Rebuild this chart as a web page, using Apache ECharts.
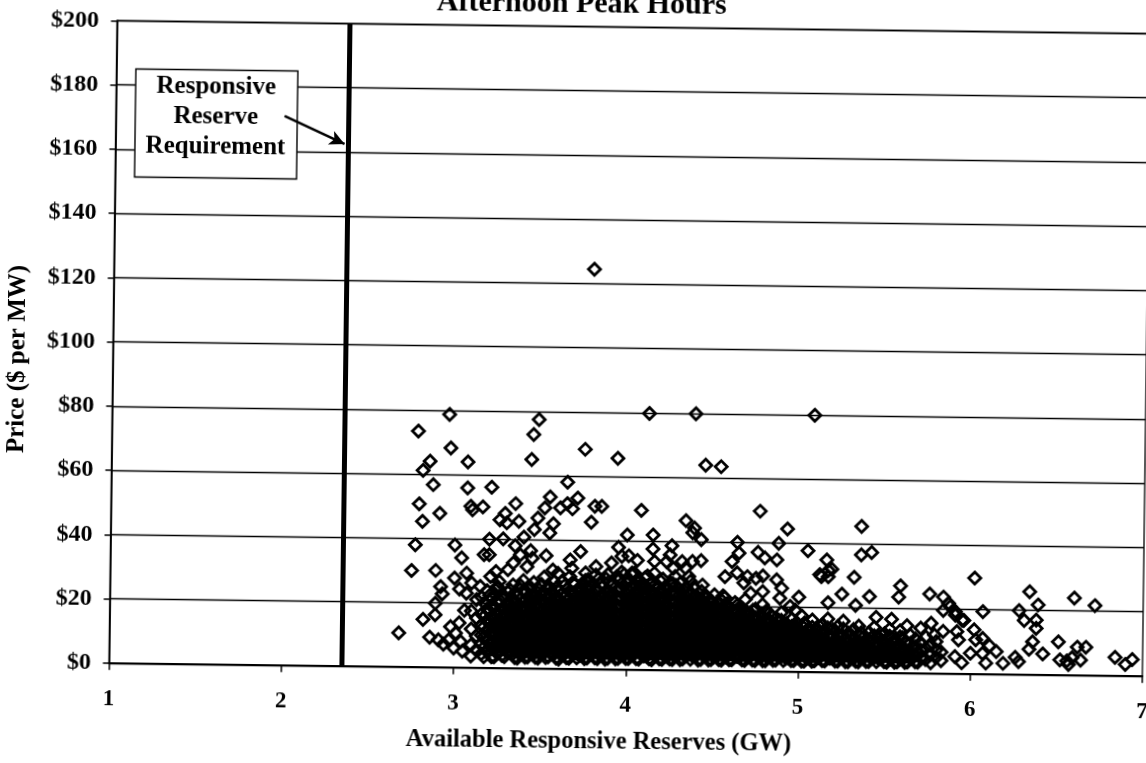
<!DOCTYPE html>
<html>
<head>
<meta charset="utf-8">
<title>Afternoon Peak Hours</title>
<script src="https://cdn.jsdelivr.net/npm/echarts@6/dist/echarts.min.js"></script>
<style>
  html, body { margin: 0; padding: 0; background: #fff; overflow: hidden; width: 1146px; height: 763px; }
  /* the printed page sits slightly askew on the scanner glass;
     the canvas is a little larger than the window so its edges never show */
  #chart {
    position: absolute; left: 0; top: -30px;
    width: 1180px; height: 823px;
    transform: rotate(0.72deg);
    transform-origin: 573px 411.5px;
  }
</style>
</head>
<body>
<div id="chart"></div>
<script>
// Axis ranges
const gwTicks = [1, 2, 3, 4, 5, 6, 7];
const priceTicks = [0, 20, 40, 60, 80, 100, 120, 140, 160, 180, 200];

// Responsive reserve requirement (GW)
const reserveRequirement = 2.35;

// Callout arrow, in [GW, $/MW]
const arrowTail = [1.98, 171.0];
const arrowHead = [2.33, 162.5];

// Individually scattered hours: [available reserves GW, price $/MW]
const scatteredHours = [
  [2.68,10.5],[2.75,30.0],[2.77,38.0],[2.78,73.4],[2.81,61.2],[2.85,64.1],[2.79,50.8],[2.81,45.3],
  [2.87,56.8],[2.91,47.9],[2.96,78.7],[2.97,68.3],[2.89,30.1],[3.00,38.1],[3.04,34.1],[3.07,64.0],
  [3.07,55.9],[3.21,56.2],[3.09,50.2],[3.10,49.1],[3.16,50.1],[3.20,40.0],[3.28,40.2],[3.40,40.8],
  [3.26,46.1],[3.30,45.2],[3.29,48.1],[3.35,51.2],[3.37,45.7],[3.48,77.5],[3.45,72.8],[3.44,65.0],
  [3.65,58.1],[3.55,53.4],[3.52,50.0],[3.48,46.8],[3.46,43.2],[3.55,42.2],[3.57,45.1],[3.61,50.1],
  [3.68,49.8],[3.65,51.4],[3.71,53.2],[3.75,68.4],[3.94,65.7],[3.79,45.7],[3.81,50.7],[3.85,50.7],
  [3.79,124.5],[4.12,79.8],[4.39,79.9],[4.45,63.9],[4.54,63.5],[4.08,49.6],[4.00,41.9],[4.15,42.0],
  [4.34,46.6],[4.39,44.3],[4.38,42.8],[4.43,40.7],[4.77,49.8],[4.64,40.0],[5.08,79.9],[4.93,44.4],
  [5.36,45.5],[4.88,39.9],[5.05,37.7],[5.36,36.6],[5.42,37.4],[5.16,34.9],[5.19,32.0],[5.13,29.7],
  [5.17,29.7],[5.32,29.6],[4.76,37.0],[4.80,35.3],[4.87,34.7],[4.61,34.0],[4.65,36.7],
  [6.02,29.8],[5.59,27.1],[5.58,23.6],[5.76,24.7],[5.84,23.8],[5.87,21.9],[6.34,25.8],[6.39,21.7],
  [6.60,24.0],[6.72,21.7],[5.41,23.7],[5.25,24.3],[6.28,19.9],[6.07,19.4],[6.31,16.8],[6.38,17.0],
  [6.38,14.4],[6.36,10.2],[6.34,7.9],[6.42,6.5],[6.51,10.3],[6.62,8.7],[6.67,8.7],[6.52,4.7],
  [6.56,4.4],[6.59,5.4],[6.64,4.7],[6.57,3.3],[6.84,5.7],[6.94,5.1],[6.90,3.5],[6.26,5.3],[6.28,4.0],
  [5.88,20.9],[5.91,19.3],[5.95,16.7],[5.92,13.1],[6.02,13.7],[6.03,10.6],[6.07,11.1],[5.93,10.5],
  [6.11,8.8],[6.15,7.0],[6.00,6.4],[6.07,6.4],[5.91,5.3],[5.95,3.4],[6.19,3.4],[6.09,3.4],
  [5.84,19.6],[5.91,18.2],[5.96,16.6],[5.17,31.6],[5.12,30.3],[5.17,21.6],[5.00,23.2],[4.90,25.9],
  [4.89,22.8],[4.79,29.7],[4.75,28.9],[4.79,24.8],[5.33,20.9],[5.45,17.2],[5.54,16.7],[5.71,14.0],
  [5.77,15.6],[5.79,11.9],[5.84,13.1],[4.83,18.1],[4.95,20.3],[4.98,19.2],[5.63,14.7],
  [3.73,36.5],[3.95,38.0],[4.01,35.4],[4.06,34.0],[3.97,35.2],[4.15,37.6],[4.16,33.7],[4.16,30.1],
  [4.26,38.7],[4.25,35.8],[4.23,33.7],[4.32,33.8],[4.38,33.9],[4.43,34.2],[4.03,30.1],[3.96,28.1],
  [4.08,26.1],[3.89,29.5],[3.91,33.1],[3.82,31.9],[3.76,29.9],[3.77,25.7],[4.27,31.7],[4.28,29.1],
  [4.34,31.8],[4.36,29.2],[4.31,27.1],[4.37,27.7],[4.44,26.6],[4.56,23.3],[4.57,29.3],[4.64,30.5],
  [4.68,27.4],[4.70,29.4],[4.72,24.2],[4.79,20.7],[4.87,28.5],
  [3.17,35.2],[3.20,35.2],[3.07,29.4],[3.00,27.8],[2.92,25.1],[3.03,24.4],[2.93,22.8],[2.89,19.9],
  [3.34,32.7],[3.38,35.3],[3.45,34.3],[3.42,31.6],[3.57,30.7],[3.60,29.7],[3.68,31.3],[3.67,33.9],
  [3.24,30.0],[3.21,28.4],[3.10,26.3],[3.15,25.3],[3.25,25.3],[3.35,38.1],[3.53,35.1],[3.44,36.6],
  [3.31,30.6],[3.26,26.9],
  [2.82,14.8],[2.86,9.3],[2.89,16.3],[2.91,8.5],[2.94,7.2],[2.97,8.5],[3.00,6.0],[3.01,10.7],
  [2.98,12.6],[3.07,23.1],[3.05,5.1],[3.03,13.9],[3.06,17.8],[3.04,8.0]
];

// Bulk of the hours, grouped by reserve level: [GW, [prices $/MW]]
const clusterColumns = [
  [3.10,[3.6,7.0,12.0,17.6]],
  [3.13,[5.5,9.8,15.4,21.2]],
  [3.16,[4.3,7.4,10.1,13.3,16.7,21.9]],
  [3.19,[5.2,8.3,11.5,14.6,18.2,24.0]],
  [3.22,[3.4,6.1,7.9,10.6,13.1,15.8,19.0,21.4]],
  [3.25,[4.7,7.0,9.4,11.8,14.3,17.2,20.5,24.8]],
  [3.28,[3.9,6.2,8.5,11.1,13.5,16.1,18.4,22.3]],
  [3.31,[5.1,7.3,9.9,12.4,15.0,17.5,20.1,23.7]],
  [3.34,[4.2,6.5,8.7,11.2,13.8,16.3,18.9,21.6,25.9]],
  [3.37,[3.1,5.4,7.6,9.8,12.1,14.4,16.9,19.4,22.5]],
  [3.40,[4.5,6.7,9.0,10.9,13.2,15.6,18.0,20.8,24.1,27.3]],
  [3.43,[3.5,5.7,8.1,10.3,12.5,14.9,17.2,19.7,22.2,25.4]],
  [3.46,[4.3,6.4,8.6,10.8,13.3,15.7,18.2,20.6,23.3,26.7]],
  [3.49,[3.2,5.3,7.5,9.7,11.9,14.3,16.6,19.1,21.9,24.6]],
  [3.52,[4.8,6.9,9.1,11.4,13.7,16.0,18.5,21.1,23.8,28.4]],
  [3.55,[3.7,5.9,8.0,10.2,12.6,15.0,17.3,19.9,22.7,25.5]],
  [3.58,[4.4,6.6,8.8,11.0,13.3,15.5,17.9,20.3,23.1,27.1]],
  [3.61,[3.0,5.2,7.4,9.5,11.8,14.1,16.4,18.8,21.5,24.3]],
  [3.64,[4.5,6.3,8.4,10.6,12.9,15.2,17.6,20.0,22.6,25.9]],
  [3.67,[3.3,5.6,7.8,10.0,12.2,14.6,17.0,19.3,21.8,24.2,28.7]],
  [3.70,[4.9,7.0,9.2,11.5,13.8,16.1,18.5,20.9,23.5,26.4]],
  [3.73,[4.1,6.2,8.3,10.4,12.7,14.9,17.2,19.7,22.1,25.0]],
  [3.76,[3.2,5.1,7.3,9.6,11.8,14.1,16.5,18.9,21.3,23.9,27.6]],
  [3.79,[4.6,6.7,8.9,11.1,13.4,15.7,18.1,20.6,23.0,25.7]],
  [3.82,[3.5,5.8,7.9,10.1,12.3,14.7,17.1,19.5,22.0,24.8,29.3]],
  [3.85,[4.3,6.4,8.5,10.7,13.0,15.3,17.7,20.2,22.8,26.5]],
  [3.88,[3.1,5.3,7.5,9.8,12.0,14.3,16.7,19.1,21.6,24.2,28.1]],
  [3.91,[4.7,6.8,9.0,11.2,13.6,15.9,18.3,20.8,23.4,26.1]],
  [3.94,[3.3,5.5,7.7,9.9,12.1,14.5,16.9,19.3,21.9,24.5,28.8]],
  [3.97,[4.2,6.3,8.4,10.6,12.9,15.2,17.5,19.9,22.4,25.2,30.3]],
  [4.00,[3.4,5.0,7.2,9.4,11.6,13.9,16.3,18.7,21.2,23.7,26.9]],
  [4.03,[4.4,6.5,8.7,10.9,13.2,15.5,17.9,20.4,22.9,25.6,29.5]],
  [4.06,[3.4,5.6,7.8,10.0,12.2,14.6,17.0,19.4,22.0,24.7,27.9]],
  [4.09,[4.8,6.9,9.1,11.3,13.7,16.1,18.5,21.0,23.6,26.3]],
  [4.12,[4.2,6.3,8.5,10.7,13.0,15.3,17.7,20.1,22.7,25.3,29.2]],
  [4.15,[3.1,5.3,7.4,9.6,11.9,14.2,16.6,19.0,21.5,24.1,27.4]],
  [4.18,[4.6,6.7,8.9,11.1,13.4,15.8,18.2,20.7,23.2,26.0]],
  [4.21,[3.3,5.4,7.6,9.8,12.0,14.3,16.7,19.1,21.7,24.4,28.3]],
  [4.24,[4.1,6.2,8.3,10.5,12.8,15.1,17.5,19.9,22.5,25.1]],
  [4.27,[3.3,5.1,7.2,9.4,11.6,13.9,16.3,18.7,21.2,23.8,26.8]],
  [4.30,[4.5,6.6,8.8,11.0,13.3,15.6,18.0,20.5,23.0,25.5]],
  [4.33,[3.5,5.7,7.9,10.1,12.3,14.7,17.1,19.6,22.2,24.9]],
  [4.36,[4.8,6.9,9.1,11.3,13.6,16.0,18.4,20.9,23.5]],
  [4.39,[4.3,6.4,8.6,10.8,13.1,15.4,17.8,20.3,22.8,25.9]],
  [4.42,[3.2,5.2,7.3,9.5,11.7,14.0,16.4,18.9,21.4,24.1]],
  [4.45,[4.6,6.7,8.9,11.1,13.4,15.8,18.2,20.7,23.1]],
  [4.48,[3.3,5.5,7.6,9.8,12.1,14.4,16.8,19.3,21.9]],
  [4.51,[4.2,6.3,8.4,10.6,12.9,15.2,17.6,20.1,23.6]],
  [4.54,[3.4,5.0,7.1,9.3,11.5,13.8,16.2,18.6,21.0]],
  [4.57,[4.4,6.5,8.7,10.9,13.2,15.5,17.9,20.5,22.8]],
  [4.60,[3.4,5.6,7.7,9.9,12.2,14.5,16.9,19.4]],
  [4.63,[4.7,6.8,9.0,11.2,13.5,15.9,18.3,21.3]],
  [4.66,[4.2,6.3,8.5,10.7,13.0,15.3,17.7,20.0]],
  [4.69,[3.3,5.2,7.3,9.5,11.7,14.0,16.4,18.8,22.3]],
  [4.72,[4.5,6.6,8.8,11.0,13.3,15.6,18.0]],
  [4.75,[3.3,5.4,7.5,9.7,11.9,14.2,16.6,19.3]],
  [4.78,[4.2,6.3,8.4,10.6,12.9,15.2,17.5]],
  [4.81,[3.3,4.9,7.0,9.2,11.4,13.7,16.1,18.6]],
  [4.84,[4.4,6.5,8.6,10.8,13.1,15.4,17.3]],
  [4.87,[3.5,5.6,7.7,9.9,12.1,14.4,16.5]],
  [4.90,[4.6,6.7,8.9,11.1,13.4,15.9,18.3]],
  [4.93,[4.1,6.2,8.3,10.5,12.8,14.9]],
  [4.96,[3.4,5.1,7.2,9.4,11.6,14.0,16.3]],
  [4.99,[4.5,6.6,8.7,10.9,13.2,15.2]],
  [5.02,[3.3,5.4,7.5,9.7,12.0,14.3,17.3]],
  [5.05,[4.2,6.3,8.5,10.7,13.0]],
  [5.08,[3.3,4.9,7.0,9.2,11.5,13.9,16.1]],
  [5.11,[4.4,6.5,8.7,11.0,13.3]],
  [5.14,[3.5,5.6,7.8,10.0,12.3,14.8]],
  [5.17,[4.7,6.9,9.1,11.4,13.7,16.5]],
  [5.20,[4.3,6.4,8.6,10.8,13.2]],
  [5.23,[3.4,5.2,7.4,9.6,11.9,14.3]],
  [5.26,[4.5,6.7,8.9,11.2,13.5,15.9]],
  [5.29,[3.3,5.4,7.6,9.8,12.2]],
  [5.32,[4.2,6.3,8.5,10.8,13.3]],
  [5.35,[3.3,5.0,7.2,9.4,11.7,14.4]],
  [5.38,[4.5,6.6,8.8,11.1]],
  [5.41,[3.4,5.5,7.7,10.0,12.5]],
  [5.44,[4.6,6.8,9.1,11.5,14.1]],
  [5.47,[4.2,6.4,8.6,10.9]],
  [5.50,[3.4,5.2,7.4,9.7,12.2]],
  [5.53,[4.5,6.7,9.0,11.4,13.6]],
  [5.56,[3.3,5.5,7.7,10.1]],
  [5.59,[4.3,6.5,8.8,11.2,13.1]],
  [5.62,[3.3,5.0,7.3,9.7]],
  [5.65,[4.5,6.8,9.2,11.8]],
  [5.68,[3.5,5.7,8.1,10.6]],
  [5.71,[4.8,7.2,9.5]],
  [5.74,[4.3,7.8,11.3]],
  [5.77,[3.3,5.9,8.7]],
  [5.80,[4.9,7.3,9.9]],
  [5.83,[4.0,6.6]]
];

// Hours falling between the levels above: [GW, [prices $/MW]]
const clusterColumnsMid = [
  [3.175,[3.4,6.3,9.6,12.8,16.0,20.2]],
  [3.205,[5.6,8.9,12.0,14.9,17.6,22.6]],
  [3.235,[3.4,5.9,8.2,10.6,13.0,15.6,18.8,23.0]],
  [3.265,[5.0,7.6,10.0,12.4,14.9,17.8,21.0]],
  [3.295,[3.5,5.8,8.1,10.7,13.1,15.7,18.3,22.0]],
  [3.325,[4.8,7.0,9.3,11.8,14.4,16.9,19.8,24.2]],
  [3.355,[3.3,5.6,7.9,10.2,12.6,15.1,17.6,20.4,23.6]],
  [3.385,[4.4,6.6,8.9,11.2,13.7,16.1,18.7,21.6,25.6]],
  [3.415,[3.4,5.2,7.4,9.6,11.9,14.2,16.5,19.0,21.5,24.0]],
  [3.445,[4.6,6.8,9.1,11.4,13.8,16.3,18.8,21.3,25.0]],
  [3.475,[3.4,5.6,7.8,10.1,12.4,14.8,17.2,19.8,22.4]],
  [3.505,[4.3,6.5,8.7,11.0,13.3,15.6,18.0,20.7,23.2,26.2]],
  [3.535,[3.4,5.3,7.5,9.7,12.0,14.4,16.8,19.3,22.0,24.9]],
  [3.565,[4.7,6.9,9.2,11.5,13.8,16.2,18.6,21.3,24.0]],
  [3.595,[3.3,5.5,7.7,9.9,12.3,14.6,17.0,19.5,22.2,25.3]],
  [3.625,[4.4,6.5,8.7,11.0,13.3,15.7,18.1,20.6,23.4,27.0]],
  [3.655,[3.4,5.2,7.3,9.5,11.8,14.2,16.6,19.0,21.4,24.8]],
  [3.685,[4.6,6.8,9.1,11.4,13.7,16.1,18.5,21.0,23.6,26.8]],
  [3.715,[3.4,5.6,7.8,10.0,12.3,14.6,16.9,19.4,21.9,24.6]],
  [3.745,[4.3,6.5,8.7,10.9,13.2,15.6,18.0,20.5,23.1,26.0]],
  [3.775,[3.4,5.3,7.5,9.8,12.0,14.3,16.7,19.1,21.7,24.4,27.8]],
  [3.805,[4.7,6.9,9.1,11.4,13.8,16.2,18.6,21.1,23.8,26.6]],
  [3.835,[3.3,5.5,7.6,9.8,12.1,14.4,16.8,19.3,21.8,24.5,28.0]],
  [3.865,[4.3,6.4,8.6,10.9,13.2,15.6,18.0,20.5,23.1,25.9]],
  [3.895,[3.4,5.2,7.3,9.5,11.8,14.1,16.5,18.9,21.4,24.0,27.2]],
  [3.925,[4.5,6.7,8.9,11.2,13.5,15.9,18.3,20.9,23.5,26.6]],
  [3.955,[3.4,5.6,7.8,10.0,12.3,14.6,17.0,19.5,22.0,24.7,28.4]],
  [3.985,[4.3,6.5,8.7,11.0,13.3,15.7,18.1,20.6,23.2,26.1,29.6]],
  [4.015,[3.4,5.3,7.5,9.7,12.0,14.3,16.7,19.2,21.7,24.3,27.5]],
  [4.045,[4.7,6.9,9.1,11.4,13.8,16.2,18.6,21.2,23.8,26.7,30.1]],
  [4.075,[3.3,5.5,7.6,9.8,12.1,14.4,16.8,19.3,21.8,24.5,27.6]],
  [4.105,[4.3,6.4,8.6,10.9,13.2,15.6,18.0,20.5,23.1,25.9,28.6]],
  [4.135,[3.4,5.2,7.3,9.5,11.8,14.1,16.5,18.9,21.4,24.0,26.8]],
  [4.165,[4.5,6.7,8.9,11.2,13.5,15.9,18.3,20.8,23.4,26.5]],
  [4.195,[3.4,5.6,7.8,10.0,12.3,14.6,17.0,19.5,22.0,24.7,27.7]],
  [4.225,[4.3,6.5,8.7,11.0,13.3,15.7,18.1,20.6,23.2,26.0]],
  [4.255,[3.4,5.3,7.5,9.7,12.0,14.3,16.7,19.2,21.7,24.3,27.2]],
  [4.285,[4.7,6.9,9.1,11.4,13.8,16.2,18.6,21.1,23.6,26.3]],
  [4.315,[3.3,5.5,7.6,9.8,12.1,14.4,16.8,19.3,21.8,24.4]],
  [4.345,[4.3,6.4,8.6,10.9,13.2,15.6,18.0,20.5,23.0,25.7]],
  [4.375,[3.4,5.2,7.3,9.5,11.8,14.1,16.5,18.9,21.4,24.0]],
  [4.405,[4.5,6.7,8.9,11.2,13.5,15.9,18.3,20.8,23.3]],
  [4.435,[3.4,5.6,7.8,10.0,12.3,14.6,17.0,19.5,22.0,24.6]],
  [4.465,[4.3,6.5,8.7,11.0,13.3,15.7,18.1,20.6,23.0]],
  [4.495,[3.4,5.3,7.5,9.7,12.0,14.3,16.7,19.2,21.6]],
  [4.525,[4.7,6.9,9.1,11.4,13.8,16.2,18.6,21.1]],
  [4.555,[3.3,5.5,7.6,9.8,12.1,14.4,16.8,19.3,21.7]],
  [4.585,[4.3,6.4,8.6,10.9,13.2,15.6,18.0,20.4]],
  [4.615,[3.4,5.2,7.3,9.5,11.8,14.1,16.5,18.9]],
  [4.645,[4.5,6.7,8.9,11.2,13.5,15.9,18.3,20.6]],
  [4.675,[3.4,5.6,7.8,10.0,12.3,14.6,17.0,19.4]],
  [4.705,[4.3,6.5,8.7,11.0,13.3,15.7,18.1]],
  [4.735,[3.4,5.3,7.5,9.7,12.0,14.3,16.7,18.9]],
  [4.765,[4.7,6.9,9.1,11.4,13.8,16.2]],
  [4.795,[3.3,5.5,7.6,9.8,12.1,14.4,16.8]],
  [4.825,[4.3,6.4,8.6,10.9,13.2,15.6]],
  [4.855,[3.4,5.2,7.3,9.5,11.8,14.1]],
  [4.885,[4.5,6.7,8.9,11.2,13.5,16.0]],
  [4.915,[3.4,5.6,7.8,10.0,12.3,14.2]],
  [4.945,[4.3,6.5,8.7,11.0,13.4]],
  [4.975,[3.4,5.3,7.5,9.7,12.0,14.6]],
  [5.005,[4.7,6.9,9.1,11.4,13.2]],
  [5.035,[3.3,5.5,7.6,9.8,12.1,15.2]],
  [5.065,[4.3,6.4,8.6,10.9,12.4]],
  [5.095,[3.4,5.2,7.3,9.5,11.8]],
  [5.125,[4.5,6.7,8.9,11.2,14.0]],
  [5.155,[3.4,5.6,7.8,10.0,12.6]],
  [5.185,[4.3,6.5,8.7,11.0]],
  [5.215,[3.4,5.3,7.5,9.7,12.8]],
  [5.245,[4.7,6.9,9.1,11.0]],
  [5.275,[3.3,5.5,7.6,10.4]],
  [5.305,[4.3,6.4,8.6,11.6]],
  [5.335,[3.4,5.2,7.3,9.6]],
  [5.365,[4.5,6.7,9.0,12.4]],
  [5.395,[3.4,5.6,8.2]],
  [5.425,[4.4,6.1,10.9]],
  [5.455,[3.4,5.3,8.0]],
  [5.485,[4.7,7.0,9.4,11.6]],
  [5.515,[3.3,5.6,8.2]],
  [5.545,[4.4,6.6,9.6]],
  [5.575,[3.4,5.4,7.8]],
  [5.605,[4.6,7.0,10.9]],
  [5.635,[3.4,6.0]],
  [5.665,[4.7,8.2]],
  [5.695,[3.4,6.5]]
];

// Flatten the grouped hours into [GW, price] pairs
function expandColumns(columns) {
  const out = [];
  columns.forEach(([gw, prices]) => prices.forEach(p => out.push([gw, p])));
  return out;
}
const allHours = scatteredHours
  .concat(expandColumns(clusterColumns))
  .concat(expandColumns(clusterColumnsMid));

const SERIF = '"Liberation Serif", "Times New Roman", Times, serif';
const OFFSET_Y = 30; // canvas starts 30px above the window

const chart = echarts.init(document.getElementById('chart'), null, { renderer: 'canvas' });

chart.setOption({
  animation: false,
  backgroundColor: '#fff',
  grid: {
    left: 112.5, right: 34, top: 26.5 + OFFSET_Y, bottom: 124.2,
    containLabel: false,
    outerBoundsMode: 'none',
    show: true, borderColor: '#000', borderWidth: 1.3, backgroundColor: 'transparent'
  },
  xAxis: {
    type: 'value',
    min: gwTicks[0],
    max: gwTicks[gwTicks.length - 1],
    interval: 1,
    axisLine: { show: true, onZero: false, lineStyle: { color: '#000', width: 1.8 } },
    axisTick: { show: true, length: 7, lineStyle: { color: '#000', width: 1.5 } },
    axisLabel: {
      show: true, margin: 25, color: '#000',
      fontFamily: SERIF, fontWeight: 'bold', fontSize: 23,
      showMinLabel: true, showMaxLabel: true
    },
    splitLine: { show: false }
  },
  yAxis: {
    type: 'value',
    min: priceTicks[0],
    max: priceTicks[priceTicks.length - 1],
    interval: priceTicks[1] - priceTicks[0],
    axisLine: { show: true, lineStyle: { color: '#000', width: 1.8 } },
    axisTick: { show: true, length: 6, lineStyle: { color: '#000', width: 1.5 } },
    axisLabel: {
      margin: 18, color: '#000',
      fontFamily: SERIF, fontWeight: 'bold', fontSize: 24,
      formatter: v => '$' + v
    },
    splitLine: { show: true, lineStyle: { color: '#000', width: 1.3 } }
  },
  series: [
    {
      type: 'scatter',
      data: allHours,
      symbol: 'diamond',
      symbolSize: 12,
      silent: true,
      large: false,
      progressive: 0,
      itemStyle: { color: 'rgba(0,0,0,0)', borderColor: '#000', borderWidth: 2.8, opacity: 1 },
      emphasis: { disabled: true },
      markLine: {
        silent: true,
        animation: false,
        symbol: 'none',
        label: { show: false },
        data: [
          { xAxis: reserveRequirement, lineStyle: { color: '#000', width: 5, type: 'solid' } },
          [
            { coord: arrowTail, symbol: 'none', lineStyle: { color: '#000', width: 2.6, type: 'solid' } },
            { coord: arrowHead, symbol: 'arrow', symbolSize: [11, 15] }
          ]
        ]
      }
    }
  ],
  graphic: [
    {
      type: 'text',
      z: 10,
      x: 577, y: 19 + OFFSET_Y,
      style: {
        text: 'Afternoon Peak Hours',
        fill: '#000',
        font: 'bold 30px ' + SERIF,
        align: 'center', verticalAlign: 'bottom'
      }
    },
    {
      type: 'rect',
      z: 1,
      shape: { x: 132, y: 74.5 + OFFSET_Y, width: 162, height: 108 },
      style: { fill: '#fff', stroke: '#000', lineWidth: 1.4 }
    },
    {
      type: 'text',
      z: 1,
      x: 212.5, y: 122 + OFFSET_Y,
      style: {
        text: 'Responsive\nReserve\nRequirement',
        fill: '#000',
        font: 'bold 25px ' + SERIF,
        lineHeight: 30,
        align: 'center', verticalAlign: 'middle'
      }
    },
    {
      type: 'text',
      z: 10,
      x: 603, y: 741.7 + OFFSET_Y,
      style: {
        text: 'Available Responsive Reserves (GW)',
        fill: '#000',
        font: 'bold 24.5px ' + SERIF,
        align: 'center', verticalAlign: 'middle'
      }
    },
    {
      type: 'text',
      z: 10,
      x: 18, y: 366 + OFFSET_Y,
      rotation: Math.PI / 2,
      style: {
        text: 'Price ($ per MW)',
        fill: '#000',
        font: 'bold 25px ' + SERIF,
        align: 'center', verticalAlign: 'middle'
      }
    }
  ]
});
</script>
</body>
</html>
